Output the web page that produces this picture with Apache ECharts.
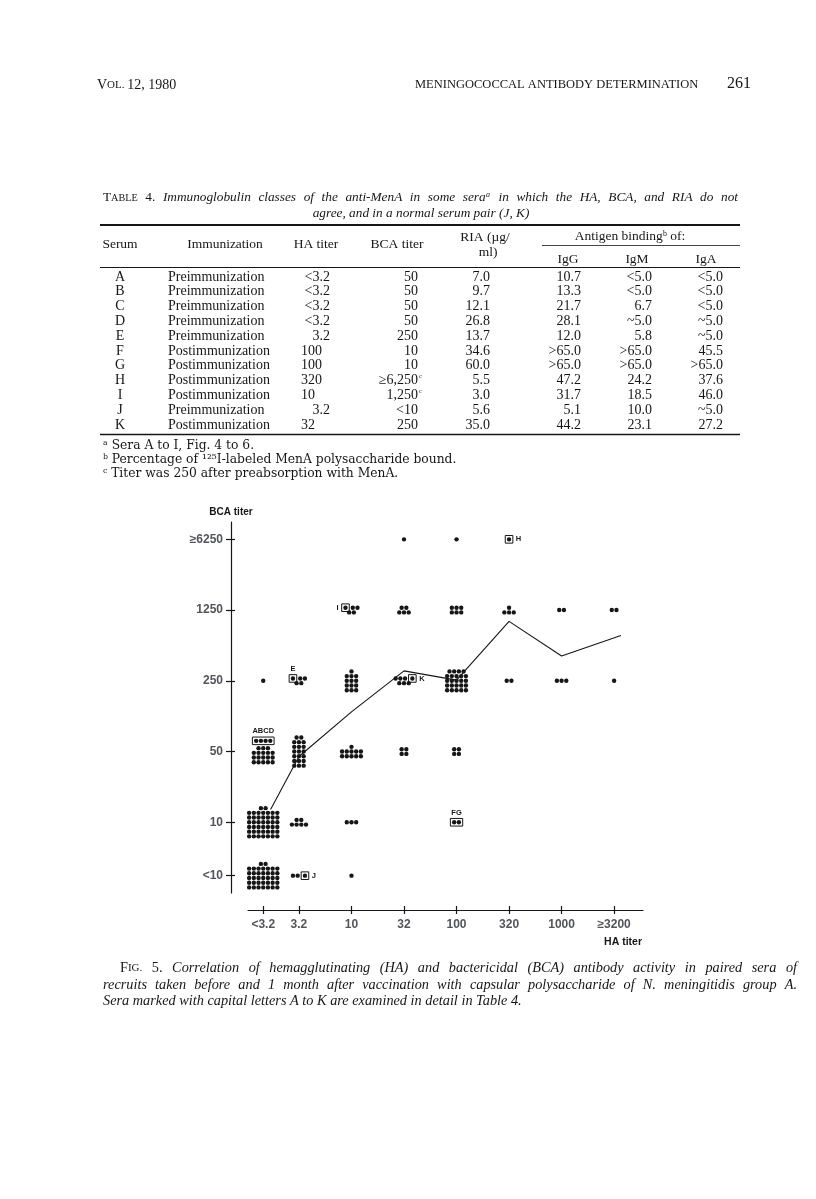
<!DOCTYPE html>
<html>
<head>
<meta charset="utf-8">
<title>Fig. 5 HA vs BCA titer</title>
<script src="https://cdn.jsdelivr.net/npm/echarts@6/dist/echarts.min.js"></script>
<style>
  html, body { margin: 0; padding: 0; background: #fff; }
  #main { width: 816px; height: 1199px; }
</style>
</head>
<body>
<div id="main"></div>
<script>
// ---- Table 4 ----
var serumIds = ['A', 'B', 'C', 'D', 'E', 'F', 'G', 'H', 'I', 'J', 'K'];
var immunization = ['Preimmunization', 'Preimmunization', 'Preimmunization', 'Preimmunization', 'Preimmunization',
  'Postimmunization', 'Postimmunization', 'Postimmunization', 'Postimmunization', 'Preimmunization', 'Postimmunization'];
var haTiter = ['<3.2', '<3.2', '<3.2', '<3.2', '3.2', '100', '100', '320', '10', '3.2', '32'];
var bcaTiter = ['50', '50', '50', '50', '250', '10', '10', '≥6,250ᶜ', '1,250ᶜ', '<10', '250'];
var ria = ['7.0', '9.7', '12.1', '26.8', '13.7', '34.6', '60.0', '5.5', '3.0', '5.6', '35.0'];
var igG = ['10.7', '13.3', '21.7', '28.1', '12.0', '>65.0', '>65.0', '47.2', '31.7', '5.1', '44.2'];
var igM = ['<5.0', '<5.0', '6.7', '~5.0', '5.8', '>65.0', '>65.0', '24.2', '18.5', '10.0', '23.1'];
var igA = ['<5.0', '<5.0', '<5.0', '~5.0', '~5.0', '45.5', '>65.0', '37.6', '46.0', '~5.0', '27.2'];

// ---- Fig. 5 ----
var haLabels = ['<3.2', '3.2', '10', '32', '100', '320', '1000', '≥3200'];
var haPos = [0.32, 1, 2, 3, 4, 5, 6, 7];
var bcaLabels = ['<10', '10', '50', '250', '1250', '≥6250'];
var bcaPos = [0.245, 1, 2, 3, 4, 5];
// number of sera per cell, rows = BCA titer (<10 .. >=6250), columns = HA titer
var counts = [
  [37, 3, 1, 0, 0, 0, 0, 0],
  [44, 6, 3, 0, 2, 0, 0, 0],
  [22, 20, 11, 4, 4, 0, 0, 0],
  [1, 5, 13, 7, 24, 2, 3, 1],
  [0, 0, 5, 5, 6, 4, 2, 2],
  [0, 0, 0, 1, 1, 1, 0, 0]
];
// sera examined in Table 4 (boxed)
var seraLabels = ['ABCD', 'E', 'I', 'K', 'FG', 'H', 'J'];
var seraHa = [0, 1, 2, 3, 4, 5, 1];
var seraBca = [2, 3, 4, 3, 1, 5, 0];
var seraCount = [4, 1, 1, 1, 2, 1, 1];
// mean line
var meanX = [0.46, 1, 2, 3, 4, 5, 6, 7.13];
var meanY = [1.18, 1.93, 2.56, 3.14, 3.01, 3.84, 3.35, 3.64];

// layout of the dot clusters (dots per full row), kept apart from the data
var cellCols = [
  [7, 2, 1, 1, 1, 1, 1, 1],
  [7, 4, 3, 1, 1, 1, 1, 1],
  [5, 3, 5, 2, 2, 1, 1, 1],
  [1, 2, 3, 3, 5, 2, 3, 1],
  [1, 1, 2, 3, 3, 3, 2, 2],
  [1, 1, 1, 1, 1, 1, 1, 1]
];
var boxPlace = { ABCD: ['row', 'top'], E: ['left', 'top'], I: ['left', 'left'], K: ['right', 'right'],
  FG: ['row', 'top'], H: ['right', 'right'], J: ['right', 'right'] };

var INK = '#161616';
var SERIF = '"Liberation Serif", "DejaVu Serif", serif';
var WIDE = '"DejaVu Serif", "Liberation Serif", serif';
var SANS = '"Liberation Sans", Arial, sans-serif';
var DOT = 4.7, GAP = 2.6, R = 2.2;

function findBox(i, j) {
  for (var k = 0; k < seraLabels.length; k++) {
    if (seraHa[k] === i && seraBca[k] === j) return k;
  }
  return -1;
}

function repeat(n, flag) {
  var a = [];
  for (var k = 0; k < n; k++) a.push(flag);
  return a;
}

function renderCell(params, api) {
  var c = api.coord([api.value(0), api.value(1)]);
  var n = api.value(2), i = api.value(3), j = api.value(4);
  var bk = findBox(i, j);
  var b = bk >= 0 ? seraCount[bk] : 0;
  var m = n - b;
  var cols = cellCols[j][i];
  var rows = [];
  var full = Math.floor(m / cols), rem = m - full * cols;
  if (rem > 0) rows.push(repeat(rem, 0));
  for (var k = 0; k < full; k++) rows.push(repeat(cols, 0));
  var place = bk >= 0 ? boxPlace[seraLabels[bk]] : null;
  var sepRow = false;
  if (bk >= 0) {
    var bx = repeat(b, 1);
    if (place[0] === 'row' || rows.length === 0) { rows.unshift(bx); sepRow = rows.length > 1; }
    else if (place[0] === 'left') rows[0] = bx.concat(rows[0]);
    else rows[0] = rows[0].concat(bx);
  }
  // vertical positions
  var ys = [], y = 0;
  for (var r = 0; r < rows.length; r++) {
    if (r > 0) y += DOT + (sepRow && r === 1 ? GAP : 0);
    ys.push(y);
  }
  var children = [];
  var bMinX = 1e9, bMaxX = -1e9, bMinY = 1e9, bMaxY = -1e9;
  for (r = 0; r < rows.length; r++) {
    var row = rows[r], xs = [], x = 0;
    for (k = 0; k < row.length; k++) {
      if (k > 0) x += DOT + (row[k] !== row[k - 1] ? GAP : 0);
      xs.push(x);
    }
    for (k = 0; k < row.length; k++) {
      var px = c[0] + xs[k] - x / 2;
      var py = c[1] + ys[r] - y / 2;
      children.push({ type: 'circle', shape: { cx: px, cy: py, r: R }, style: { fill: INK } });
      if (row[k] === 1) {
        bMinX = Math.min(bMinX, px); bMaxX = Math.max(bMaxX, px);
        bMinY = Math.min(bMinY, py); bMaxY = Math.max(bMaxY, py);
      }
    }
  }
  if (bk >= 0) {
    var pad = 3.8;
    var bx0 = bMinX - pad, by0 = bMinY - pad, bw = bMaxX - bMinX + 2 * pad, bh = bMaxY - bMinY + 2 * pad;
    children.push({ type: 'rect', shape: { x: bx0, y: by0, width: bw, height: bh },
      style: { fill: 'none', stroke: INK, lineWidth: 1 } });
    var side = place[1], tx, ty, al, va;
    if (side === 'top') { tx = bx0 + bw / 2; ty = by0 - 2; al = 'center'; va = 'bottom'; }
    else if (side === 'left') { tx = bx0 - 3; ty = by0 + bh / 2; al = 'right'; va = 'middle'; }
    else { tx = bx0 + bw + 3; ty = by0 + bh / 2; al = 'left'; va = 'middle'; }
    children.push({ type: 'text', style: { text: seraLabels[bk], x: tx, y: ty, align: al, verticalAlign: va,
      fontSize: 7.5, fontWeight: 'bold', fontFamily: SANS, fill: INK } });
  }
  return { type: 'group', children: children };
}

var cells = [];
for (var j = 0; j < bcaPos.length; j++) {
  for (var i = 0; i < haPos.length; i++) {
    if (counts[j][i] > 0) cells.push([haPos[i], bcaPos[j], counts[j][i], i, j]);
  }
}
var meanLine = meanX.map(function (v, k) { return [v, meanY[k]]; });

// ---- page text as graphic elements ----
var els = [];
function txt(x, y, s, font, align, extra) {
  var st = { text: s, font: font, fill: INK, align: align || 'left', verticalAlign: 'middle' };
  if (extra) for (var key in extra) st[key] = extra[key];
  els.push({ type: 'text', x: x, y: y, style: st, silent: true });
}
function rule(x1, x2, y, w) {
  els.push({ type: 'line', shape: { x1: x1, y1: y, x2: x2, y2: y }, style: { stroke: INK, lineWidth: w }, silent: true });
}

// justified lines: words are lists of [text, font] parts
var measureCtx = document.createElement('canvas').getContext('2d');
function partWidth(p) { measureCtx.font = p[1]; return measureCtx.measureText(p[0]).width; }
function wordsOf(s, font) { return s.split(' ').map(function (w) { return [[w, font]]; }); }
function placeWords(words, x0, x1, y) {
  var widths = words.map(function (w) { return w.reduce(function (a, p) { return a + partWidth(p); }, 0); });
  var total = widths.reduce(function (a, b) { return a + b; }, 0);
  var gap = x1 ? (x1 - x0 - total) / (words.length - 1) : partWidth([' ', words[0][0][1]]);
  var x = x0;
  words.forEach(function (w, k) {
    var px = x;
    w.forEach(function (p) { txt(px, y, p[0], p[1], 'left'); px += partWidth(p); });
    x += widths[k] + gap;
  });
}

// running head
txt(97, 85, '{a|V}{b|OL. }{a|12, 1980}', '', 'left', { rich: {
  a: { fontSize: 14, fontFamily: SERIF, fill: INK }, b: { fontSize: 11, fontFamily: SERIF, fill: INK } } });
txt(415, 85, 'MENINGOCOCCAL ANTIBODY DETERMINATION', '12.5px ' + SERIF, 'left');
txt(751, 84, '261', '16px ' + SERIF, 'right');

// table caption
var tcIt = 'italic 13.3px ' + SERIF, tcRm = '13.3px ' + SERIF, tcSc = '10.2px ' + SERIF;
placeWords([[['T', tcRm], ['ABLE', tcSc]], [['4.', tcRm]]].concat(
  wordsOf('Immunoglobulin classes of the anti-MenA in some seraᵃ in which the HA, BCA, and RIA do not', tcIt)),
  103, 738, 198);
txt(421, 214, 'agree, and in a normal serum pair (J, K)', tcIt, 'center');

rule(100, 740, 225, 2);
rule(542, 740, 245.5, 0.8);
rule(100, 740, 267.5, 1);
rule(100, 740, 434.5, 1.4);

var headFont = '13.5px ' + SERIF;
txt(120, 244, 'Serum', headFont, 'center');
txt(225, 244, 'Immunization', headFont, 'center');
txt(316, 244, 'HA titer', headFont, 'center');
txt(397, 244, 'BCA titer', headFont, 'center');
txt(485, 237, 'RIA (µg/', headFont, 'center');
txt(488, 252, 'ml)', headFont, 'center');
txt(630, 236, 'Antigen binding\u1d47 of:', headFont, 'center');
txt(568, 259, 'IgG', headFont, 'center');
txt(637, 259, 'IgM', headFont, 'center');
txt(706, 259, 'IgA', headFont, 'center');

var bodyFont = '14px ' + SERIF;
for (var r = 0; r < serumIds.length; r++) {
  var ry = 277 + r * 14.8;
  txt(120, ry, serumIds[r], bodyFont, 'center');
  txt(168, ry, immunization[r], bodyFont, 'left');
  if (haTiter[r].indexOf('.') >= 0) txt(330, ry, haTiter[r], bodyFont, 'right');
  else txt(301, ry, haTiter[r], bodyFont, 'left');
  var bca = bcaTiter[r];
  if (bca.slice(-1) === 'ᶜ') {
    txt(418, ry, bca.slice(0, -1), bodyFont, 'right');
    txt(419, ry - 2, 'ᶜ', '11px ' + SERIF, 'left');
  } else {
    txt(418, ry, bca, bodyFont, 'right');
  }
  txt(490, ry, ria[r], bodyFont, 'right');
  txt(581, ry, igG[r], bodyFont, 'right');
  txt(652, ry, igM[r], bodyFont, 'right');
  txt(723, ry, igA[r], bodyFont, 'right');
}

var noteFont = '12.3px ' + WIDE;
txt(103, 446, 'ᵃ Sera A to I, Fig. 4 to 6.', noteFont, 'left');
txt(103, 460, 'ᵇ Percentage of ¹²⁵I-labeled MenA polysaccharide bound.', noteFont, 'left');
txt(103, 474, 'ᶜ Titer was 250 after preabsorption with MenA.', noteFont, 'left');

// figure axis titles
txt(231, 512, 'BCA titer', 'bold 10px ' + SANS, 'center');
txt(642, 942, 'HA titer', 'bold 10.5px ' + SANS, 'right');

// figure caption
var fcIt = 'italic 14.3px ' + SERIF, fcRm = '14.3px ' + SERIF, fcSc = '11px ' + SERIF;
placeWords([[['F', fcRm], ['IG.', fcSc]], [['5.', fcRm]]].concat(
  wordsOf('Correlation of hemagglutinating (HA) and bactericidal (BCA) antibody activity in paired sera of', fcIt)),
  120, 797, 968);
placeWords(wordsOf('recruits taken before and 1 month after vaccination with capsular polysaccharide of N. meningitidis group A.', fcIt),
  103, 797, 985);
txt(103, 1001, 'Sera marked with capital letters A to K are examined in detail in Table 4.', fcIt, 'left');

// ---- chart ----
var myChart = echarts.init(document.getElementById('main'), null, { renderer: 'canvas' });

var axisLineStyle = { color: INK, width: 1.2 };
var labelStyle = { color: INK, fontFamily: SANS, fontWeight: 'bold', fontSize: 11 };

myChart.setOption({
  backgroundColor: '#ffffff',
  animation: false,
  grid: { left: 248, right: 173, top: 522, bottom: 306, outerBoundsMode: 'none', containLabel: false },
  xAxis: [{
    type: 'value', min: 0.03, max: 7.55, position: 'bottom', offset: 17,
    axisLine: { show: true, onZero: false, lineStyle: axisLineStyle },
    axisTick: { show: true, customValues: haPos, length: 4, lineStyle: axisLineStyle },
    axisLabel: {
      customValues: haPos, margin: 9,
      formatter: function (v) { return haLabels[haPos.indexOf(v)]; }
    },
    splitLine: { show: false }
  }, {
    type: 'value', min: 0.03, max: 7.55, position: 'bottom', offset: 17,
    axisLine: { show: false, onZero: false },
    axisTick: { show: true, inside: true, customValues: haPos, length: 4, lineStyle: axisLineStyle },
    axisLabel: { show: false },
    splitLine: { show: false }
  }],
  yAxis: [{
    type: 'value', min: 0, max: 5.245, position: 'left', offset: 17,
    axisLine: { show: true, onZero: false, lineStyle: axisLineStyle },
    axisTick: { show: true, customValues: bcaPos, length: 5, lineStyle: axisLineStyle },
    axisLabel: {
      customValues: bcaPos, margin: 8,
      formatter: function (v) { return bcaLabels[bcaPos.indexOf(v)]; }
    },
    splitLine: { show: false }
  }, {
    type: 'value', min: 0, max: 5.245, position: 'left', offset: 17,
    axisLine: { show: false, onZero: false },
    axisTick: { show: true, inside: true, customValues: bcaPos, length: 4, lineStyle: axisLineStyle },
    axisLabel: { show: false },
    splitLine: { show: false }
  }],
  textStyle: labelStyle,
  graphic: { elements: els },
  series: [{
    type: 'line',
    data: meanLine,
    showSymbol: false,
    symbol: 'none',
    lineStyle: { color: INK, width: 1.1 },
    z: 3,
    silent: true
  }, {
    type: 'custom',
    coordinateSystem: 'cartesian2d',
    renderItem: renderCell,
    encode: { x: 0, y: 1 },
    data: cells,
    clip: false,
    z: 4,
    silent: true
  }]
});
</script>
</body>
</html>
